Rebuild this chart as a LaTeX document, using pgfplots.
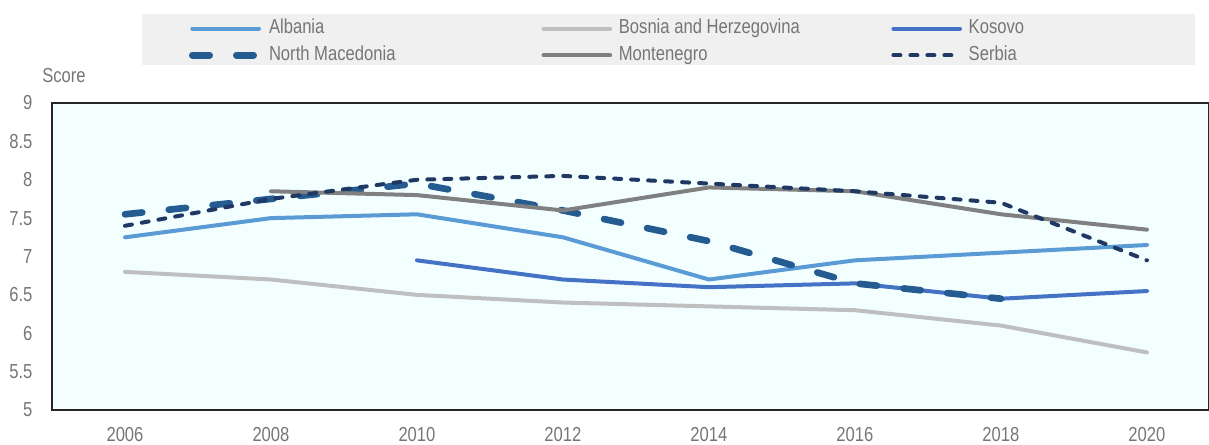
\documentclass[border=0pt]{standalone}
\usepackage{fontspec}
\setmainfont[FakeStretch=0.82]{Liberation Sans}
\usepackage{pgfplots}
\pgfplotsset{compat=1.18}
\definecolor{cAlb}{HTML}{5B9BD5}
\definecolor{cBih}{HTML}{BFBFBF}
\definecolor{cKos}{HTML}{4472C4}
\definecolor{cMkd}{HTML}{245C91}
\definecolor{cMne}{HTML}{808080}
\definecolor{cSrb}{HTML}{1F3864}
\definecolor{plotbg}{HTML}{F3FFFF}
\definecolor{legbg}{HTML}{F0F0F0}
\definecolor{txtgray}{HTML}{767676}
\newcommand\chartfont{\fontsize{15.2pt}{18pt}\selectfont}
\begin{document}
\begin{tikzpicture}
\path[use as bounding box] (-39pt,-25.5pt) rectangle (867.75pt,307.5pt);
\fill[legbg] (67.5pt,258.75pt) rectangle (857.25pt,297pt);
\begin{axis}[
  scale only axis, width=867.75pt, height=230.25pt,
  xmin=2005, xmax=2020.85, ymin=5, ymax=9,
  xtick={2006,2008,...,2020}, ytick={5,5.5,...,9},
  major tick length=0pt,
  axis background/.style={fill=plotbg},
  axis line style={draw=black!85, line width=1.1pt},
  /pgf/number format/1000 sep={},
  tick label style={font=\chartfont, text=txtgray, /pgf/number format/assume math mode=true},
  xticklabel style={anchor=north, inner sep=0pt, yshift=-12.75pt},
  yticklabel style={anchor=east, inner sep=0pt, xshift=-14.5pt},
  ylabel={Score},
  every axis y label/.style={at={(axis description cs:-0.0125,1.0684)}, anchor=base west, font=\chartfont, text=txtgray},
  legend columns=3,
  legend cell align=left,
  legend style={at={(axis description cs:0.11841,1.2730)}, anchor=north west, draw=none, fill=none,
    inner sep=0pt, outer sep=0pt, font=\chartfont, text=txtgray, row sep=6pt,
    nodes={inner sep=0pt, text height=11pt, text depth=3pt},
    /tikz/every odd column/.append style={column sep=5pt},
    /tikz/every even column/.append style={column sep=4.4pt}},
  legend image code/.code={\draw[#1] (0pt,0pt) -- (50pt,0pt);},
  every axis plot/.append style={line join=round},
]
\addplot[cAlb, line width=3pt, line cap=round] coordinates {
 (2006,7.25) (2008,7.5) (2010,7.55) (2012,7.25) (2014,6.7) (2016,6.95) (2018,7.05) (2020,7.15)};
\addlegendentry{\makebox[200pt][l]{Albania}}
\addplot[cBih, line width=3pt, line cap=round] coordinates {
 (2006,6.8) (2008,6.7) (2010,6.5) (2012,6.4) (2014,6.35) (2016,6.3) (2018,6.1) (2020,5.75)};
\addlegendentry{\makebox[200pt][l]{Bosnia and Herzegovina}}
\addplot[cKos, line width=3pt, line cap=round] coordinates {
 (2010,6.95) (2012,6.7) (2014,6.6) (2016,6.65) (2018,6.45) (2020,6.55)};
\addlegendentry{\makebox[200pt][l]{Kosovo}}
\addplot[cMkd, line width=5pt, line cap=round, dash pattern=on 13pt off 20pt] coordinates {
 (2006,7.55) (2008,7.75) (2010,7.95) (2012,7.6) (2014,7.2) (2016,6.65) (2018,6.45)};
\addlegendentry{\makebox[200pt][l]{North Macedonia}}
\addplot[cMne, line width=3pt, line cap=round] coordinates {
 (2008,7.85) (2010,7.8) (2012,7.6) (2014,7.9) (2016,7.85) (2018,7.55) (2020,7.35)};
\addlegendentry{\makebox[200pt][l]{Montenegro}}
\addplot[cSrb, line width=3pt, line cap=round, dash pattern=on 5.25pt off 7.5pt] coordinates {
 (2006,7.4) (2008,7.75) (2010,8.0) (2012,8.05) (2014,7.95) (2016,7.85) (2018,7.7) (2020,6.95)};
\addlegendentry{\makebox[200pt][l]{Serbia}}
\end{axis}
\end{tikzpicture}
\end{document}
